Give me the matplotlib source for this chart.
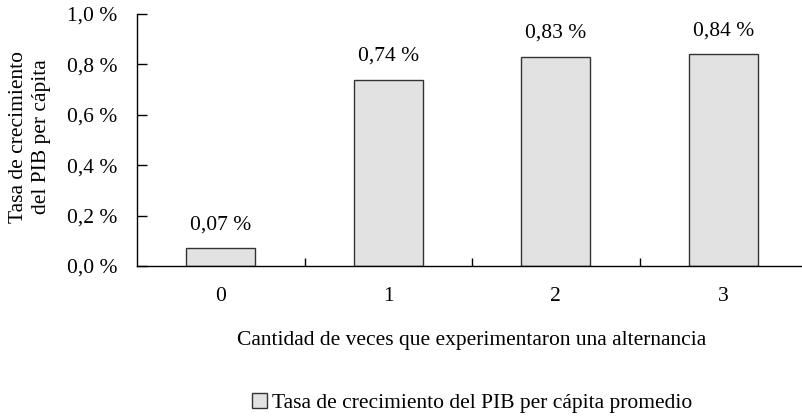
import numpy as np
import matplotlib.pyplot as plt

# datos
categorias = ["0", "1", "2", "3"]
tasas = [0.07, 0.74, 0.83, 0.84]
etiquetas = ["0,07 %", "0,74 %", "0,83 %", "0,84 %"]
yticks = [0.0, 0.2, 0.4, 0.6, 0.8, 1.0]
ytick_labels = ["0,0 %", "0,2 %", "0,4 %", "0,6 %", "0,8 %", "1,0 %"]

plt.rcParams['font.family'] = ['Liberation Serif', 'DejaVu Serif']
fs = 15.5

fig = plt.figure(figsize=(8.02, 4.17), dpi=100)
ax = fig.add_axes([137/802, 1 - 266/417, 670/802, 252/417])

x = np.arange(len(categorias))
barras = ax.bar(x, tasas, width=0.41, color='#e1e2e1', edgecolor='#333333',
                linewidth=1.0, label='Tasa de crecimiento del PIB per cápita promedio')

for xi, v, t in zip(x, tasas, etiquetas):
    ax.annotate(t, (xi, v), xytext=(0, 10), textcoords='offset points',
                ha='center', va='bottom', fontsize=fs)

ax.set_xlim(-0.5, 3.5)
ax.set_ylim(0, 1.0)
ax.set_yticks(yticks)
ax.set_yticklabels(ytick_labels, fontsize=fs)
ax.set_xticks(x)
ax.set_xticklabels(categorias, fontsize=fs)
ax.set_xticks([0.5, 1.5, 2.5, 3.5], minor=True)
ax.tick_params(axis='x', which='major', length=0, pad=15)
ax.tick_params(axis='x', which='minor', direction='in', length=6, width=1)
ax.tick_params(axis='y', direction='in', length=7, width=1, pad=14)

for s in ['top', 'right']:
    ax.spines[s].set_visible(False)
ax.spines['left'].set_linewidth(1)
ax.spines['bottom'].set_linewidth(1)

fig.text(30/802, 1 - 137/417, "Tasa de crecimiento\ndel PIB per cápita",
         rotation=90, ha='center', va='center', fontsize=fs, linespacing=1.25)
fig.text(472/802, 1 - 340/417, "Cantidad de veces que experimentaron una alternancia",
         ha='center', va='center', fontsize=fs)

fig.legend(handles=[barras], loc='center', bbox_to_anchor=(472/802, 1 - 403/417),
           frameon=False, fontsize=fs, handlelength=0.7, handleheight=0.7,
           handletextpad=0.2)

fig.savefig('out.png', dpi=100)
